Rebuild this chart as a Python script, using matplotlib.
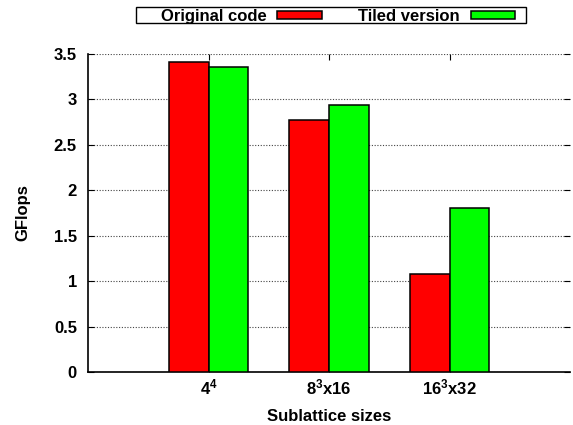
import numpy as np
import matplotlib
matplotlib.use('Agg')
import matplotlib.pyplot as plt
from matplotlib.patches import Rectangle

plt.rcParams['font.family'] = ['Liberation Sans', 'DejaVu Sans']
plt.rcParams['font.weight'] = 'bold'
plt.rcParams['mathtext.fontset'] = 'custom'
plt.rcParams['mathtext.rm'] = 'Liberation Sans:bold'
plt.rcParams['mathtext.bf'] = 'Liberation Sans:bold'
plt.rcParams['mathtext.default'] = 'bf'

## data
sizes = ['4$^4$', '8$^3$x16', '16$^3$x32']
original = [3.41, 2.77, 1.08]
tiled = [3.36, 2.94, 1.80]
yticks = [0, 0.5, 1, 1.5, 2, 2.5, 3, 3.5]

W, H = 573, 425
fs = 12
fig = plt.figure(figsize=(W / 100, H / 100), dpi=100)
ax = fig.add_axes([88 / W, 1 - 372 / H, (570 - 88) / W, (372 - 54) / H])

x = np.arange(1, len(sizes) + 1)
w = 0.33
ax.bar(x - w/2, original, w, color='#ff0000', edgecolor='black', linewidth=1.1, label='Original code', zorder=3)
ax.bar(x + w/2, tiled, w, color='#00ff00', edgecolor='black', linewidth=1.1, label='Tiled version', zorder=3)

ax.set_xlim(0, 4)
ax.set_ylim(0, 3.5)
ax.set_xticks(x)
ax.set_xticklabels(sizes)
ax.set_yticks(yticks)
ax.set_yticklabels(['%g' % v for v in yticks])

ax.spines['top'].set_visible(False)
ax.spines['right'].set_visible(False)
ax.spines['left'].set_linewidth(1.2)
ax.spines['bottom'].set_linewidth(1.2)
ax.tick_params(axis='both', direction='in', length=4, width=0.8, labelsize=fs,
               top=True, right=True)
ax.tick_params(axis='y', pad=8)
ax.tick_params(axis='x', pad=4)
ax.grid(axis='y', linestyle=(0, (1, 1.5)), color='#444444', linewidth=0.8, zorder=0)
ax.set_axisbelow(True)

ax.set_xlabel('Sublattice sizes', fontsize=fs, fontweight='bold', labelpad=8)
ax.set_ylabel('GFlops', fontsize=fs, fontweight='bold', labelpad=17)

# key, gnuplot style: text first, then sample
leg = fig.legend(loc='center right', bbox_to_anchor=(515 / W, 1 - 16.5 / H), ncol=2,
                 frameon=False, markerfirst=False,
                 fontsize=fs, handlelength=2.65, handleheight=0.33,
                 handletextpad=0.66, columnspacing=2.2, borderpad=0,
                 borderaxespad=0)
for t in leg.get_texts():
    t.set_fontweight('bold')
fig.patches.append(Rectangle((136 / W, 1 - 23 / H), (526 - 136) / W, 16 / H,
                             transform=fig.transFigure, fill=False,
                             edgecolor='black', linewidth=1))

fig.savefig('out.png', dpi=100)
